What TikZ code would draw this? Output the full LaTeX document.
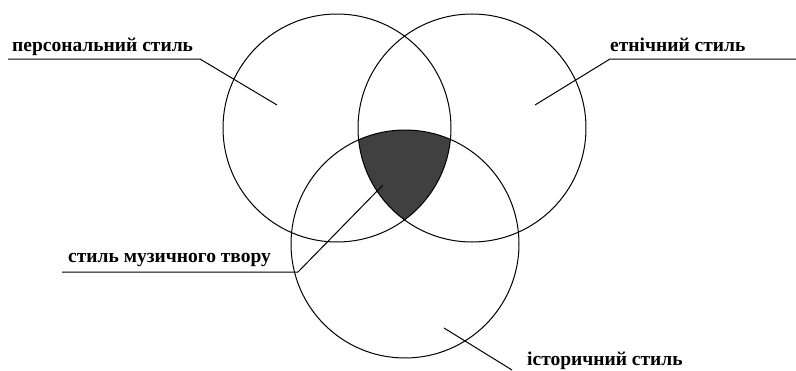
\documentclass[tikz,border=0pt]{standalone}
\usepackage{fontspec}
\setmainfont{Liberation Serif}
\begin{document}
\begin{tikzpicture}[x=1pt,y=-1pt,
  ring/.style={line width=1pt},
  leader/.style={line width=1pt},
  lbl/.style={font=\bfseries\fontsize{19.5}{19.5}\selectfont, inner sep=0pt, anchor=base west}]
\useasboundingbox (0,0) rectangle (796,370);
% shaded intersection
\begin{scope}
  \clip (337,128) circle[radius=114];
  \clip (472,128) circle[radius=114];
  \fill[black!75] (405,244) circle[radius=114];
\end{scope}
% circles
\draw[ring] (337,128) circle[radius=114];
\draw[ring] (472,128) circle[radius=114];
\draw[ring] (405,244) circle[radius=114];
% labels
\node[lbl] (pers) at (12,51) {персональний стиль};
\node[lbl] (etn) at (610,51) {етнічний стиль};
\node[lbl] (muz) at (68,262) {стиль музичного твору};
\node[lbl] (ist) at (527,365) {історичний стиль};
% leader coordinates
\coordinate (p1) at (8,59);
\coordinate (p2) at (200,59);
\coordinate (p3) at (277,105);
\coordinate (e1) at (796,59);
\coordinate (e2) at (610,59);
\coordinate (e3) at (535,105);
\coordinate (m1) at (62,272);
\coordinate (m2) at (298,272);
\coordinate (m3) at (383,185);
\coordinate (i1) at (444,328);
\coordinate (i2) at (512,370);
\draw[leader] (p1) -- (p2) -- (p3);
\draw[leader] (e1) -- (e2) -- (e3);
\draw[leader] (m1) -- (m2) -- (m3);
\draw[leader] (i1) -- (i2);
\end{tikzpicture}
\end{document}
